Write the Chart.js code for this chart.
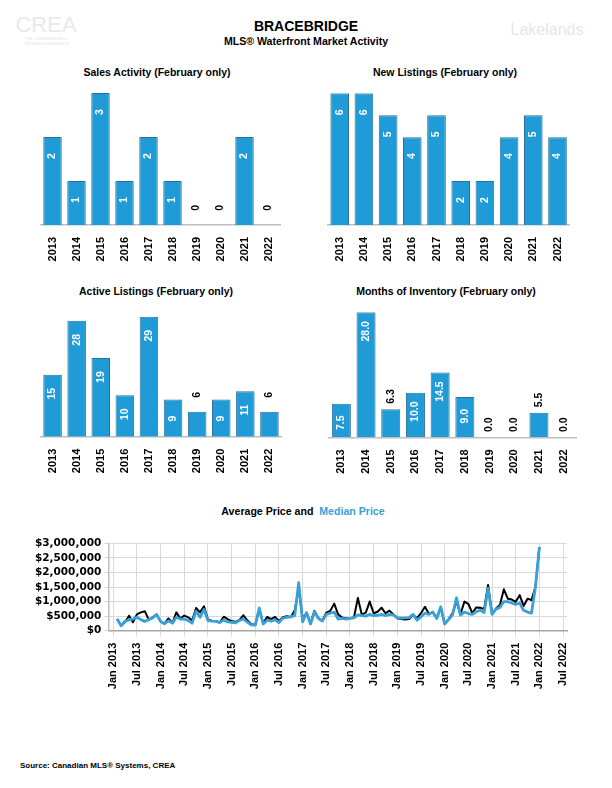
<!DOCTYPE html>
<html>
<head>
<meta charset="utf-8">
<script src="https://cdn.jsdelivr.net/npm/chart.js@4.4.1/dist/chart.umd.min.js"></script>
<style>
  body { margin: 0; background: #fff; }
  #page { position: relative; width: 612px; height: 788px; overflow: hidden; font-family: 'Liberation Sans', Arial, sans-serif; }
  .txt { position: absolute; white-space: nowrap; font-weight: bold; color: #000; transform: translate(-50%, -50%); }
  canvas { position: absolute; }
</style>
</head>
<body>
<div id="page">
  <div class="txt" style="left:46px;top:25px;font-size:22px;font-weight:normal;color:#e9e9e9;">CREA</div>
  <div class="txt" style="left:47px;top:41px;font-size:4px;color:#ececec;">THE CANADIAN REAL<br>ESTATE ASSOCIATION</div>
  <div class="txt" style="left:547px;top:30px;font-size:16px;font-weight:normal;color:#e3e7ec;">Lakelands</div>

  <div class="txt" style="left:306px;top:26px;font-size:14px;">BRACEBRIDGE</div>
  <div class="txt" style="left:306px;top:41px;font-size:10.6px;">MLS® Waterfront Market Activity</div>

  <div class="txt" style="left:157px;top:72px;font-size:10.5px;">Sales Activity (February only)</div>
  <div class="txt" style="left:445px;top:72px;font-size:10.5px;">New Listings (February only)</div>
  <div class="txt" style="left:156px;top:291px;font-size:10.5px;">Active Listings (February only)</div>
  <div class="txt" style="left:446px;top:291px;font-size:10.5px;">Months of Inventory (February only)</div>

  <div class="txt" style="left:303px;top:511px;font-size:10.6px;">Average Price and&nbsp; <span style="color:#3aa0d8;">Median Price</span></div>

  <div class="txt" style="left:20px;top:765px;font-size:8px;transform:translate(0,-50%);">Source: Canadian MLS® Systems, CREA</div>

  <canvas id="sales" width="306" height="190" style="left:0;top:80px;"></canvas>
  <canvas id="listings" width="306" height="190" style="left:306px;top:80px;"></canvas>
  <canvas id="active" width="306" height="180" style="left:0;top:300px;"></canvas>
  <canvas id="inventory" width="306" height="180" style="left:306px;top:300px;"></canvas>
  <canvas id="prices" width="612" height="170" style="left:0;top:530px;"></canvas>
</div>

<script>
// February-only figures
const years = ['2013', '2014', '2015', '2016', '2017', '2018', '2019', '2020', '2021', '2022'];
const salesActivity = [2, 1, 3, 1, 2, 1, 0, 0, 2, 0];
const newListings = [6, 6, 5, 4, 5, 2, 2, 4, 5, 4];
const activeListings = [15, 28, 19, 10, 29, 9, 6, 9, 11, 6];
const monthsInventory = [7.5, 28.0, 6.3, 10.0, 14.5, 9.0, 0.0, 0.0, 5.5, 0.0];

// Monthly prices in $ thousands, Feb 2013 .. Jan 2022 (month 0 = Jan 2013)
const firstMonth = 1;
const avgPrice = [
  400, 170, 300, 515, 290, 560, 630, 670, 380, 460, 560,
  320, 240, 420, 260, 630, 420, 520, 460, 350, 780, 630, 840,
  380, 340, 330, 290, 480, 400, 330, 300, 370, 530, 350, 220,
  200, 720, 260, 470, 400, 470, 330, 460, 500, 460, 700, 1450,
  420, 600, 260, 680, 430, 350, 620, 680, 930, 560, 450, 420,
  430, 450, 1120, 550, 620, 1000, 600, 650, 790, 600, 690, 560,
  430, 400, 380, 400, 540, 430, 600, 820, 580, 620, 440, 780,
  250, 400, 600, 1000, 560, 1000, 920, 600, 800, 790, 740, 1570,
  580, 760, 880, 1420, 1100, 1070, 990, 1220, 850, 1100, 1050, 1500,
  2870
];
const medianPrice = [
  400, 170, 330, 370, 400, 460, 380, 320, 380, 440, 550,
  320, 240, 340, 260, 460, 400, 400, 350, 260, 670, 460, 730,
  350, 330, 320, 280, 370, 300, 290, 270, 350, 400, 290, 200,
  190, 780, 230, 360, 330, 380, 280, 430, 460, 480, 520, 1650,
  300, 620, 230, 650, 420, 330, 560, 600, 640, 400, 420, 400,
  420, 440, 540, 520, 500, 560, 520, 530, 560, 520, 560, 540,
  450, 430, 440, 450, 560, 360, 480, 600, 560, 640, 420, 820,
  230, 380, 540, 1130, 530, 640, 590, 560, 650, 700, 620, 1450,
  560, 740, 800, 1000, 1000, 950, 900, 950, 700, 640, 600, 1500,
  2870
];

const tickMonths = [0, 6, 12, 18, 24, 30, 36, 42, 48, 54, 60, 66, 72, 78, 84, 90, 96, 102, 108, 114];
const tickLabels = ['Jan 2013', 'Jul 2013', 'Jan 2014', 'Jul 2014', 'Jan 2015', 'Jul 2015', 'Jan 2016', 'Jul 2016',
  'Jan 2017', 'Jul 2017', 'Jan 2018', 'Jul 2018', 'Jan 2019', 'Jul 2019', 'Jan 2020', 'Jul 2020',
  'Jan 2021', 'Jul 2021', 'Jan 2022', 'Jul 2022'];

const barBlue = '#1f9bd8';
const barEdge = '#2f6f95';
const medianBlue = '#3aa0d8';
const gridGrey = '#d9d9d9';

// value labels written up the bars, inside when there is room
const barLabels = {
  id: 'barLabels',
  afterDatasetsDraw(chart, args, opts) {
    const ctx = chart.ctx;
    const meta = chart.getDatasetMeta(0);
    const values = chart.data.datasets[0].data;
    ctx.save();
    ctx.font = 'bold 10.5px "Liberation Sans"';
    ctx.textAlign = 'center';
    ctx.textBaseline = 'middle';
    meta.data.forEach((bar, i) => {
      const text = values[i].toFixed(opts.decimals || 0);
      const w = ctx.measureText(text).width;
      const h = bar.base - bar.y;
      let cy, color;
      if (h > 30) {
        cy = bar.y + 19;
        color = '#fff';
      } else {
        cy = bar.y - (20 - w / 2);
        color = '#000';
      }
      ctx.save();
      ctx.translate(bar.x, cy);
      ctx.rotate(-Math.PI / 2);
      ctx.fillStyle = color;
      ctx.fillText(text, 0, 0);
      ctx.restore();
    });
    ctx.restore();
  }
};

function makeBarChart(id, values, yMax, pad, axisHeight, decimals) {
  return new Chart(document.getElementById(id), {
    type: 'bar',
    data: {
      labels: years,
      datasets: [{
        data: values,
        backgroundColor: barBlue,
        borderColor: barEdge,
        borderWidth: 1,
        barPercentage: 0.77,
        categoryPercentage: 1
      }]
    },
    options: {
      responsive: false,
      animation: false,
      layout: { padding: { left: pad.left, right: pad.right, top: pad.top, bottom: 0 } },
      plugins: {
        legend: { display: false },
        tooltip: { enabled: false },
        barLabels: { decimals: decimals }
      },
      scales: {
        x: {
          grid: { display: false, drawTicks: false },
          border: { display: true, color: '#bfbfbf', width: 1.5 },
          ticks: {
            color: '#000',
            font: { family: 'Liberation Sans', weight: 'bold', size: 11 },
            minRotation: 90,
            maxRotation: 90,
            autoSkip: false,
            padding: 12
          },
          afterFit(scale) { scale.height = axisHeight; }
        },
        y: { display: false, min: 0, max: yMax }
      }
    },
    plugins: [barLabels]
  });
}

makeBarChart('sales', salesActivity, 3, { left: 40.5, right: 25.5, top: 13 }, 45, 0);
makeBarChart('listings', newListings, 6, { left: 21.6, right: 42.4, top: 13.3 }, 45, 0);
makeBarChart('active', activeListings, 29, { left: 40.5, right: 24.5, top: 16.7 }, 43.3, 0);
makeBarChart('inventory', monthsInventory, 28, { left: 23, right: 36, top: 12.3 }, 42.7, 1);

// price lines
const avgPoints = avgPrice.map((v, i) => ({ x: firstMonth + i, y: v * 1000 }));
const medianPoints = medianPrice.map((v, i) => ({ x: firstMonth + i, y: v * 1000 }));

new Chart(document.getElementById('prices'), {
  type: 'line',
  data: {
    datasets: [
      { label: 'Median Price', data: medianPoints, borderColor: medianBlue, borderWidth: 2.8, borderJoinStyle: 'round', pointRadius: 0, tension: 0, order: 0 },
      { label: 'Average Price', data: avgPoints, borderColor: '#000', borderWidth: 2, borderJoinStyle: 'round', pointRadius: 0, tension: 0, order: 1 }
    ]
  },
  options: {
    responsive: false,
    animation: false,
    layout: { padding: { left: 0, right: 45, top: 13.3, bottom: 0 } },
    plugins: { legend: { display: false }, tooltip: { enabled: false } },
    scales: {
      x: {
        type: 'linear',
        min: -1.25,
        max: 115,
        afterBuildTicks(scale) { scale.ticks = tickMonths.map(v => ({ value: v })); },
        ticks: {
          callback: v => tickLabels[tickMonths.indexOf(v)],
          color: '#000',
          font: { family: 'Liberation Sans', weight: 'bold', size: 11 },
          minRotation: 90,
          maxRotation: 90,
          autoSkip: false,
          padding: 6
        },
        grid: { color: gridGrey, tickLength: 6 },
        border: { color: '#a6a6a6', width: 1.5 },
        afterFit(scale) { scale.height = 69.3; }
      },
      y: {
        min: 0,
        max: 3000000,
        ticks: {
          stepSize: 500000,
          autoSkip: false,
          callback: v => '$' + v.toLocaleString('en-US'),
          color: '#000',
          font: { family: 'DejaVu Sans', weight: 'bold', size: 10.5 },
          padding: 3
        },
        grid: { color: gridGrey, tickLength: 4 },
        border: { color: '#bfbfbf', width: 1.5 },
        afterFit(scale) { scale.width = 108.3; }
      }
    }
  }
});
</script>
</body>
</html>
